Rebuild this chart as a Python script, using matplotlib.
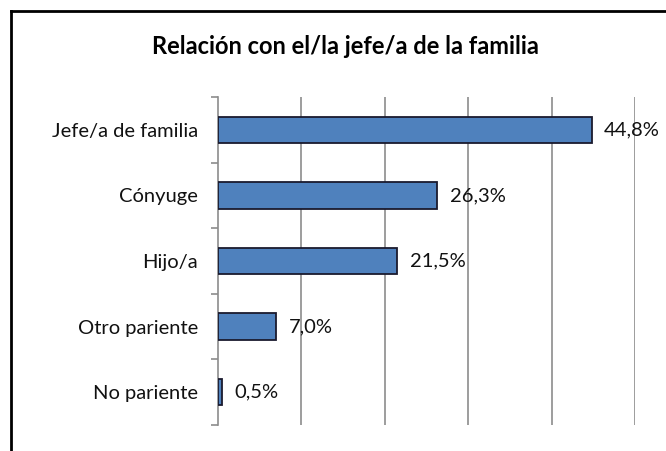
import matplotlib
matplotlib.use("Agg")
import matplotlib.pyplot as plt
from matplotlib.lines import Line2D
import numpy as np

title = "Relación con el/la jefe/a de la familia"
categories = ["Jefe/a de familia", "Cónyuge", "Hijo/a", "Otro pariente", "No pariente"]
values = [44.8, 26.3, 21.5, 7.0, 0.5]
value_labels = ["44,8%", "26,3%", "21,5%", "7,0%", "0,5%"]

W, H = 666, 451
fig = plt.figure(figsize=(W / 100, H / 100), dpi=100)
fig.patch.set_facecolor("white")
plt.rcParams['font.family'] = ['Lato', 'DejaVu Sans']

# outer border (chart area frame, cut off at right/bottom)
fig.add_artist(Line2D([11 / W, 11 / W], [0, 1 - 11 / H], transform=fig.transFigure, color="black", lw=2))
fig.add_artist(Line2D([11 / W, 1], [1 - 11 / H, 1 - 11 / H], transform=fig.transFigure, color="black", lw=2))

ax = fig.add_axes([217.5 / W, 26 / H, (635 - 217.5) / W, (425 - 97) / H])
y = np.arange(len(categories))
ax.barh(y, values, height=0.4, color="#4F81BD", edgecolor="#1a1a2e", linewidth=1.3, zorder=3)
ax.set_xlim(0, 50)
ax.set_ylim(len(categories) - 0.5, -0.5)

ax.set_xticks([10, 20, 30, 40, 50])
ax.xaxis.grid(True, color="#8c8c8c", linewidth=1.2, zorder=0)
ax.tick_params(axis="x", length=0, labelbottom=False)

ax.set_yticks(np.arange(-0.5, len(categories), 1.0))
ax.set_yticklabels([])
ax.tick_params(axis="y", which="major", length=5, color="#8c8c8c", width=1.2)
ax.set_yticks(y, minor=True)
ax.set_yticklabels(categories, minor=True, fontsize=14.5, color="#111111")
ax.tick_params(axis="y", which="minor", length=0, pad=14)

for s in ["top", "right", "bottom"]:
    ax.spines[s].set_visible(False)
ax.spines["left"].set_color("#8c8c8c")
ax.spines["left"].set_linewidth(1.2)

for yi, v, lab in zip(y, values, value_labels):
    ax.annotate(lab, (v, yi), xytext=(9, 0), textcoords="offset points",
                va="center", ha="left", fontsize=14.5, color="#111111", zorder=4)

fig.text(345 / W, 1 - 47 / H, title, ha="center", va="center", fontsize=17, fontweight="bold")

fig.savefig("out.png", dpi=100)
